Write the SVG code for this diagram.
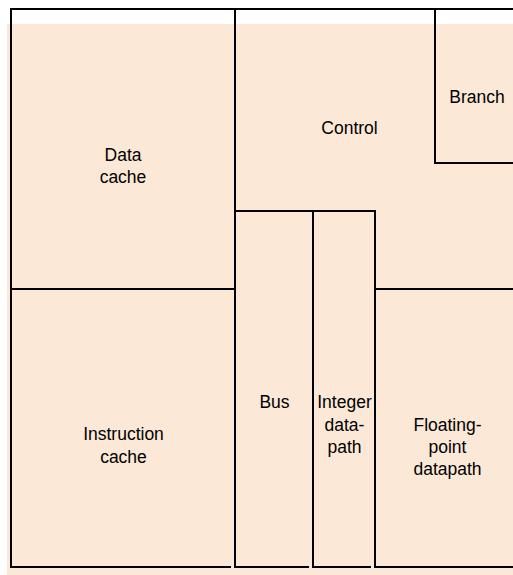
<svg xmlns="http://www.w3.org/2000/svg" width="513" height="575" viewBox="0 0 513 575">
<style>
.bg{fill:#FCE8D6}
.ln{fill:none;stroke:#000;stroke-width:2}
.t{font-family:"Liberation Sans",Arial,sans-serif;font-size:17.5px;fill:#000;text-anchor:middle}
</style>
<rect class="bg" x="7" y="24" width="506" height="551"/>
<g id="data-cache">
<path class="ln" d="M11 8V289M10 9H235"/>
<text class="t" x="123" y="161">Data</text>
<text class="t" x="123" y="183">cache</text>
</g>
<g id="instruction-cache">
<path class="ln" d="M11 289V568M10 289H235M10 567H231"/>
<text class="t" x="123.5" y="440">Instruction</text>
<text class="t" x="123.5" y="463">cache</text>
</g>
<g id="control">
<path class="ln" d="M235 9H513M235 8V211M235 211H376M375 211V289H513"/>
<text class="t" x="349.5" y="134">Control</text>
</g>
<g id="branch">
<path class="ln" d="M435 9V163H513"/>
<text class="t" x="477" y="103">Branch</text>
</g>
<g id="bus">
<path class="ln" d="M235 211V568M234 567H309"/>
<text class="t" x="274.5" y="408">Bus</text>
</g>
<g id="integer-datapath">
<path class="ln" d="M313 211V568M312 567H371"/>
<text class="t" x="344.5" y="408">Integer</text>
<text class="t" x="344.5" y="431">data-</text>
<text class="t" x="344.5" y="453">path</text>
</g>
<g id="fp-datapath">
<path class="ln" d="M375 289V568M374 567H513"/>
<text class="t" x="447.5" y="431">Floating-</text>
<text class="t" x="447.5" y="453">point</text>
<text class="t" x="447.5" y="475">datapath</text>
</g>
<g id="connectors"></g>
</svg>
